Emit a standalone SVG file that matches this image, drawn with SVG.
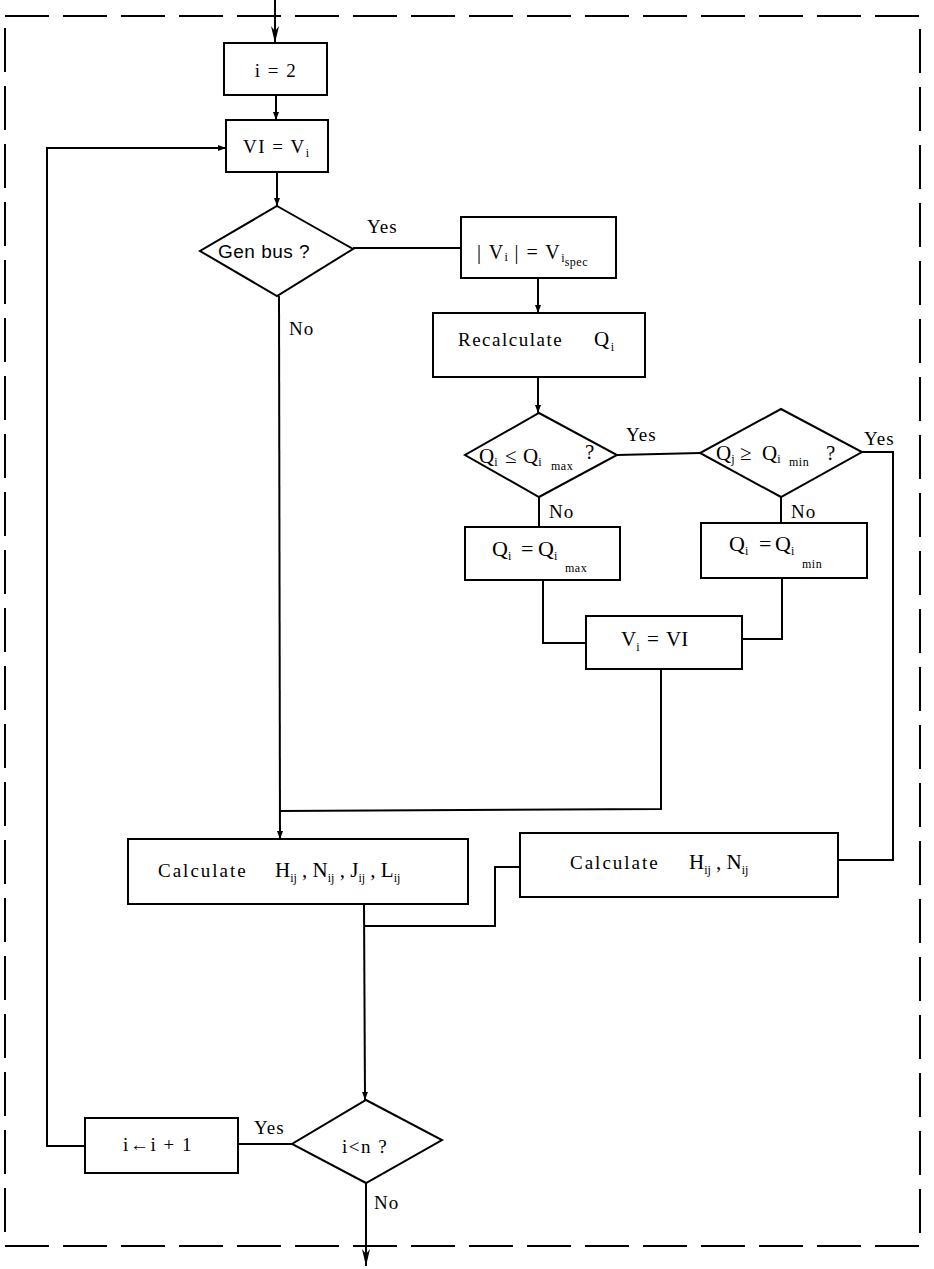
<svg xmlns="http://www.w3.org/2000/svg" width="934" height="1269" viewBox="0 0 934 1269">
<defs>
<marker id="big" markerWidth="18" markerHeight="8" refX="17" refY="4" orient="auto" markerUnits="userSpaceOnUse" viewBox="0 0 18 8">
<path d="M0,0 L17,4 L0,8 L5,4 z" fill="#000"/>
</marker>
<marker id="sm" markerWidth="8" markerHeight="6" refX="8" refY="3" orient="auto" markerUnits="userSpaceOnUse" viewBox="0 0 8 6">
<path d="M0,0 L8,3 L0,6 z" fill="#000"/>
</marker>
</defs>
<style>
.b{fill:#fff;stroke:#000;stroke-width:2}
.c{fill:none;stroke:#000;stroke-width:2}
.d{fill:none;stroke:#000;stroke-width:2;stroke-dasharray:44 14}
.t{font-family:"Liberation Serif",serif;font-size:19px;fill:#000;letter-spacing:1.5px}
.q{font-family:"Liberation Serif",serif;font-size:22px;fill:#000;letter-spacing:0}
.s{font-size:12px;letter-spacing:0}
.ss{font-size:12px;letter-spacing:0.5px}
.l{font-family:"Liberation Serif",serif;font-size:19px;fill:#000;letter-spacing:1px}
</style>
<rect width="934" height="1269" fill="#fff"/>
<rect class="d" x="5" y="16" width="915" height="1230"/>

<g id="connectors">
<line class="c" x1="275" y1="0" x2="275" y2="43" marker-end="url(#big)"/>
<line class="c" x1="276" y1="95" x2="276" y2="120" marker-end="url(#sm)"/>
<line class="c" x1="277" y1="172" x2="277" y2="206" marker-end="url(#sm)"/>
<line class="c" x1="353" y1="248" x2="461" y2="248"/>
<line class="c" x1="538" y1="278" x2="538" y2="313" marker-end="url(#sm)"/>
<line class="c" x1="538" y1="377" x2="538" y2="413" marker-end="url(#sm)"/>
<line class="c" x1="617" y1="455" x2="700" y2="453"/>
<line class="c" x1="539" y1="497" x2="539" y2="527"/>
<line class="c" x1="781" y1="497" x2="781" y2="523"/>
<polyline class="c" points="543,580 543,643 586,643"/>
<polyline class="c" points="782,578 782,639 742,639"/>
<polyline class="c" points="661,669 661,809 280,811"/>
<line class="c" x1="279" y1="296" x2="280" y2="839" marker-end="url(#sm)"/>
<polyline class="c" points="862,452 893,452 893,860 838,860"/>
<polyline class="c" points="520,867 495,867 495,926 364,926"/>
<line class="c" x1="364" y1="904" x2="365" y2="1100" marker-end="url(#sm)"/>
<line class="c" x1="292" y1="1144" x2="238" y2="1144"/>
<polyline class="c" points="85,1146 47,1146 47,148 226,148" marker-end="url(#sm)"/>
<line class="c" x1="366" y1="1183" x2="366" y2="1266" marker-end="url(#big)"/>
</g>

<g id="n_i2">
<rect class="b" x="224" y="43" width="103" height="52"/>
<text class="t" x="276" y="77" text-anchor="middle">i = 2</text>
</g>
<g id="n_vi">
<rect class="b" x="226" y="120" width="102" height="52"/>
<text class="t" x="243" y="153">VI = V<tspan class="s" dy="4">i</tspan></text>
</g>
<g id="n_genbus">
<polygon class="b" points="277,206 353,249 277,296 200,251"/>
<text x="218" y="258" style="font-family:'Liberation Sans',sans-serif;font-size:19px;letter-spacing:0.5px">Gen  bus ?</text>
<text class="l" x="367" y="233">Yes</text>
<text class="l" x="289" y="335">No</text>
</g>
<g id="n_vspec">
<rect class="b" x="461" y="217" width="155" height="61"/>
<text class="t" x="477" y="259" style="font-size:20px">| V<tspan class="s" dy="2">i</tspan><tspan dy="-2"> | = V</tspan><tspan class="s" dy="3">i</tspan><tspan class="ss" dy="4">spec</tspan></text>
</g>
<g id="n_recalc">
<rect class="b" x="433" y="313" width="212" height="64"/>
<text class="t" x="458" y="346">Recalculate<tspan x="594" style="font-size:21px">Q</tspan><tspan class="s" dy="5">i</tspan></text>
</g>
<g id="n_qmax_dec">
<polygon class="b" points="539,413 617,455 539,497 465,455"/>
<text class="q" x="479" y="463" style="font-size:21px">Q<tspan class="s" dy="3">i</tspan><tspan x="505" dy="-3">≤</tspan><tspan x="523">Q</tspan><tspan class="s" dy="3">i</tspan><tspan class="ss" x="551" dy="4">max</tspan><tspan x="585" dy="-11">?</tspan></text>
<text class="l" x="626" y="441">Yes</text>
<text class="l" x="549" y="518">No</text>
</g>
<g id="n_qmin_dec">
<polygon class="b" points="781,409 862,452 781,497 700,453"/>
<text class="q" x="716" y="460" style="font-size:21px">Q<tspan class="s" dy="3">j</tspan><tspan x="740" dy="-3">≥</tspan><tspan x="762">Q</tspan><tspan class="s" dy="3">i</tspan><tspan class="ss" x="789" dy="3">min</tspan><tspan x="826" dy="-6">?</tspan></text>
<text class="l" x="864" y="445">Yes</text>
<text class="l" x="791" y="518">No</text>
</g>
<g id="n_qmax">
<rect class="b" x="465" y="527" width="155" height="53"/>
<text class="q" x="492" y="556">Q<tspan class="s" dy="4">i</tspan><tspan x="521" dy="-4">=</tspan><tspan x="538">Q</tspan><tspan class="s" dy="4">i</tspan><tspan class="ss" x="565" dy="12">max</tspan></text>
</g>
<g id="n_qmin">
<rect class="b" x="701" y="523" width="166" height="55"/>
<text class="q" x="729" y="551">Q<tspan class="s" dy="4">i</tspan><tspan x="759" dy="-4">=</tspan><tspan x="775">Q</tspan><tspan class="s" dy="4">i</tspan><tspan class="ss" x="802" dy="13">min</tspan></text>
</g>
<g id="n_vivi">
<rect class="b" x="586" y="616" width="156" height="53"/>
<text class="q" x="621" y="646" style="font-size:21px">V<tspan class="s" dy="5">i</tspan><tspan x="647" dy="-5">=</tspan><tspan x="666">VI</tspan></text>
</g>
<g id="n_calc4">
<rect class="b" x="128" y="839" width="340" height="65"/>
<text class="t" x="158" y="877" style="letter-spacing:2px">Calculate<tspan x="275" style="font-size:21px;letter-spacing:0">H</tspan><tspan class="s" dy="5">ij</tspan><tspan dy="-5" style="font-size:21px;letter-spacing:0"> , N</tspan><tspan class="s" dy="5">ij</tspan><tspan dy="-5" style="font-size:21px;letter-spacing:0"> , J</tspan><tspan class="s" dy="5">ij</tspan><tspan dy="-5" style="font-size:21px;letter-spacing:0"> , L</tspan><tspan class="s" dy="5">ij</tspan></text>
</g>
<g id="n_calc2">
<rect class="b" x="520" y="833" width="318" height="64"/>
<text class="t" x="570" y="869" style="letter-spacing:2px">Calculate<tspan x="689" style="font-size:21px;letter-spacing:0">H</tspan><tspan class="s" dy="5">ij</tspan><tspan dy="-5" style="font-size:21px;letter-spacing:0"> , N</tspan><tspan class="s" dy="5">ij</tspan></text>
</g>
<g id="n_inc">
<rect class="b" x="85" y="1118" width="153" height="55"/>
<text class="t" x="158" y="1151" text-anchor="middle">i←i + 1</text>
<text class="l" x="254" y="1134">Yes</text>
</g>
<g id="n_iltn">
<polygon class="b" points="366,1100 442,1140 366,1183 292,1144"/>
<text class="t" x="365" y="1153" text-anchor="middle">i&lt;n ?</text>
<text class="l" x="374" y="1209">No</text>
</g>
</svg>
